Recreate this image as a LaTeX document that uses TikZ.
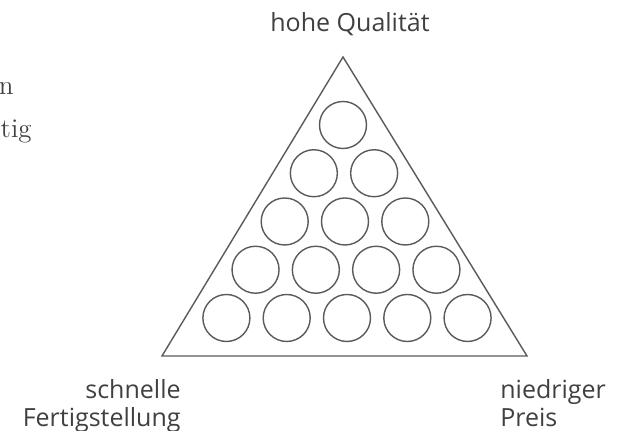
\documentclass[tikz,border=0pt]{standalone}
\usepackage{fontspec}
\setsansfont{Open Sans}
\usepackage{tikz}
\usetikzlibrary{positioning}

\definecolor{linegray}{HTML}{5A5A5A}
\definecolor{textgray}{HTML}{404040}

\begin{document}
\begin{tikzpicture}[
    x=0.5pt, y=-0.5pt,
    ball/.style={circle, draw=linegray, line width=0.7pt, minimum size=23.5pt, inner sep=0pt},
    corner/.style={font=\sffamily\fontsize{12.5}{14}\selectfont, text=textgray, inner sep=0pt},
    cut/.style={font=\rmfamily\fontsize{13.5}{16}\selectfont, text=textgray, inner sep=0pt}
]
\useasboundingbox (0,0) rectangle (629,431);

% triangle corners
\coordinate (apex) at (343,57);
\coordinate (leftc) at (162,356);
\coordinate (rightc) at (527,356);
\draw[linegray, line width=0.7pt, line join=miter] (apex) -- (leftc) -- (rightc) -- cycle;

% balls, five rows
\foreach \r in {1,...,5} {
  \foreach \k in {1,...,\r} {
    \node[ball] (ball-\r-\k) at ({342+\r+(\k-(\r+1)/2)*60.3}, {125+(\r-1)*48.25}) {};
  }
}

% labels
\node[corner, anchor=base] (quality) at (350,32) {hohe Qualität};
\node[corner, anchor=base east] (fast) at (181,399) {schnelle};
\node[corner, anchor=base east] (finish) at (181,427) {Fertigstellung};
\node[corner, anchor=base west] (cheap) at (500,399) {niedriger};
\node[corner, anchor=base west] (price) at (500,427) {Preis};

% text at the left edge
\node[cut, anchor=base east] (cutn) at (14,95) {n};
\node[cut, anchor=base east] (cuttig) at (32,138) {tig};
\end{tikzpicture}
\end{document}
